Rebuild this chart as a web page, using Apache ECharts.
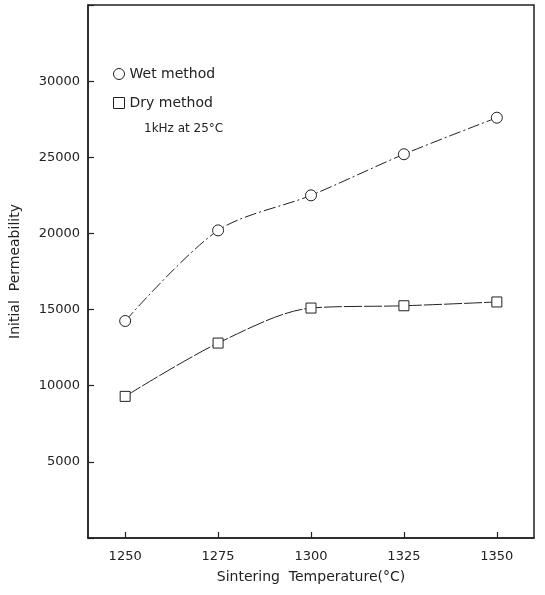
<!DOCTYPE html>
<html>
<head>
<meta charset="utf-8">
<script src="https://cdn.jsdelivr.net/npm/echarts@6/dist/echarts.min.js"></script>
<style>
  html, body { margin: 0; padding: 0; background: #fff; }
  #main { width: 545px; height: 595px; }
</style>
</head>
<body>
<div id="main"></div>
<script>
// 数据
var temps = [1250, 1275, 1300, 1325, 1350];
var wetValues = [14250, 20200, 22500, 25200, 27600];
var dryValues = [9300, 12800, 15100, 15250, 15500];
var xTicks = [1250, 1275, 1300, 1325, 1350];
var yTicks = [5000, 10000, 15000, 20000, 25000, 30000];

function pairs(xs, ys) {
  return xs.map(function (x, i) { return [x, ys[i]]; });
}

var ink = '#222';
var font = 'DejaVu Sans';

var myChart = echarts.init(document.getElementById('main'));

var option = {
  backgroundColor: '#fff',
  animation: false,
  grid: {
    left: 86, right: 11, top: 5, bottom: 57,
    show: true, borderColor: ink, borderWidth: 1.5
  },
  title: {
    text: '1kHz at 25°C',
    left: 139, top: 118,
    textStyle: { fontFamily: font, fontSize: 12, fontWeight: 'normal', color: ink }
  },
  legend: {
    orient: 'vertical',
    left: 108, top: 62,
    itemWidth: 11, itemHeight: 11, itemGap: 15,
    textStyle: { fontFamily: font, fontSize: 14, color: ink },
    itemStyle: { color: '#fff', borderColor: ink, borderWidth: 1 },
    data: [
      { name: 'Wet method', icon: 'circle' },
      { name: 'Dry method', icon: 'rect' }
    ]
  },
  xAxis: {
    type: 'value',
    min: 1240, max: 1360,
    name: 'Sintering  Temperature(°C)',
    nameLocation: 'middle',
    nameGap: 32,
    nameTextStyle: { fontFamily: font, fontSize: 14, color: ink },
    axisLine: { show: true, lineStyle: { color: ink, width: 1.5 } },
    axisTick: {
      show: true, inside: true, length: 6,
      lineStyle: { color: ink, width: 1.2 },
      customValues: xTicks
    },
    axisLabel: {
      fontFamily: font, fontSize: 13, color: ink, margin: 12,
      customValues: xTicks,
      formatter: function (v) { return String(v); }
    },
    splitLine: { show: false }
  },
  yAxis: {
    type: 'value',
    min: 0, max: 35000, interval: 5000,
    name: 'Initial  Permeability',
    nameLocation: 'middle',
    nameGap: 66,
    nameTextStyle: { fontFamily: font, fontSize: 14, color: ink },
    axisLine: { show: true, lineStyle: { color: ink, width: 1.5 } },
    axisTick: {
      show: true, inside: true, length: 6,
      lineStyle: { color: ink, width: 1.2 }
    },
    axisLabel: {
      fontFamily: font, fontSize: 13, color: ink, margin: 8,
      formatter: function (v) {
        return yTicks.indexOf(v) >= 0 ? String(v) : '';
      }
    },
    splitLine: { show: false }
  },
  series: [
    {
      name: 'Wet method',
      type: 'line',
      data: pairs(temps, wetValues),
      smooth: 0.3,
      symbol: 'circle',
      symbolSize: 11,
      itemStyle: { color: '#fff', borderColor: ink, borderWidth: 1 },
      lineStyle: { color: ink, width: 1, type: [12, 3, 2, 3] }
    },
    {
      name: 'Dry method',
      type: 'line',
      data: pairs(temps, dryValues),
      smooth: 0.3,
      symbol: 'rect',
      symbolSize: 10,
      itemStyle: { color: '#fff', borderColor: ink, borderWidth: 1 },
      lineStyle: { color: ink, width: 1, type: [18, 2] }
    }
  ]
};

myChart.setOption(option);
</script>
</body>
</html>
